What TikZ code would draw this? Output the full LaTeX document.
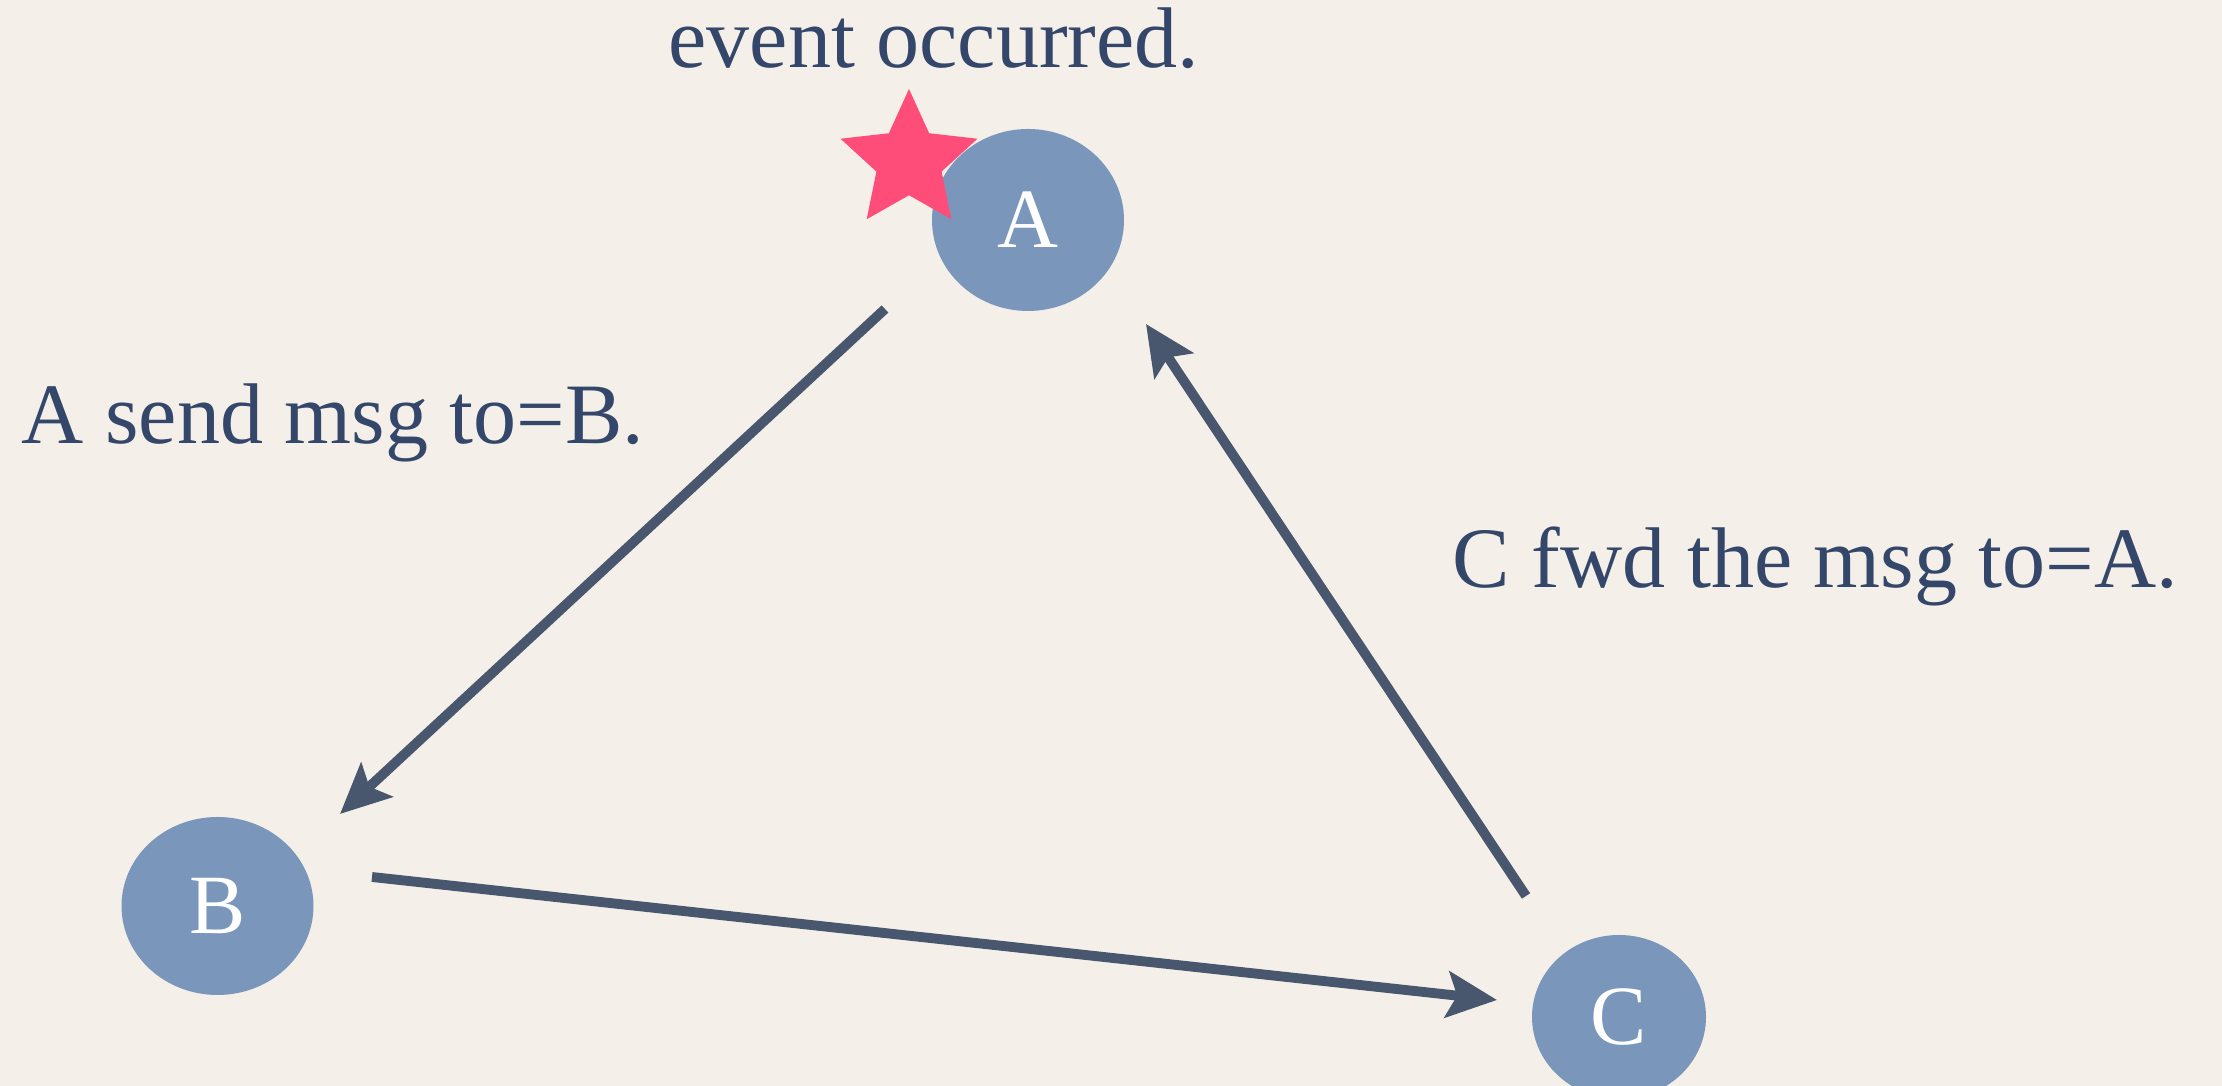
\documentclass[tikz,border=0pt]{standalone}
\usepackage{fontspec}
\setmainfont{Liberation Serif}
\usepackage{xcolor}
\definecolor{cBack}{HTML}{F4F0E9}
\definecolor{cNode}{HTML}{7A97BB}
\definecolor{cLine}{HTML}{48566E}
\definecolor{cText}{HTML}{34476A}
\definecolor{cStar}{HTML}{FF4D79}
\usepackage{tikz}
\usetikzlibrary{arrows.meta,shapes.geometric}
\tikzset{
  node-proc/.style={ellipse,fill=cNode,text=white,inner sep=0pt,
    font=\fontsize{24}{28}\selectfont},
  node-note/.style={text=cText,inner sep=0pt,font=\fontsize{24.5}{28}\selectfont},
  node-event/.style={star,star points=5,star point ratio=2.1,fill=cStar,
    inner sep=0pt,minimum size=14.4mm},
  arrow/.style={-{Stealth[length=5mm,width=4.6mm,inset=1mm]},
    line width=2.8pt,draw=cLine},
}

\begin{document}
\begin{tikzpicture}
  \fill[cBack] (0,0) rectangle (22.22,10.86);
  \useasboundingbox (0,0) rectangle (22.22,10.86);
  % processes
  \node[node-proc,minimum width=19.2mm,minimum height=18.2mm] (A) at (10.28,8.66) {A};
  \node[node-proc,minimum width=19.2mm,minimum height=17.8mm] (B) at (2.175,1.80) {B};
  \node[node-proc,minimum width=17.4mm,minimum height=16.4mm] (C) at (16.19,0.69) {C};
  \node[node-event] (ev) at (9.09,9.25) {};
  % labels
  \node[node-note,anchor=base] (occ) at (9.34,10.18) {event occurred.};
  \node[node-note,anchor=base west] (send) at (0.21,6.425) {A send msg to=B.};
  \node[node-note,anchor=base west] (fwd) at (14.52,4.98) {C fwd the msg to=A.};
  % message path
  \coordinate (ab-s) at (8.85,7.77);
  \coordinate (ab-e) at (3.40,2.72);
  \coordinate (bc-s) at (3.72,2.09);
  \coordinate (bc-e) at (14.97,0.86);
  \coordinate (ca-s) at (15.26,1.90);
  \coordinate (ca-e) at (11.46,7.62);
  \draw[arrow] (ab-s) -- (ab-e);
  \draw[arrow] (bc-s) -- (bc-e);
  \draw[arrow] (ca-s) -- (ca-e);
\end{tikzpicture}
\end{document}
